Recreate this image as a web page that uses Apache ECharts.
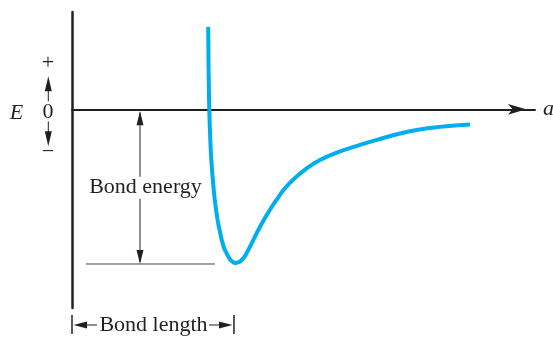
<!DOCTYPE html>
<html><head><meta charset="utf-8">
<script src="https://cdn.jsdelivr.net/npm/echarts@6/dist/echarts.min.js"></script>
<style>html,body{margin:0;padding:0;background:#fff}#c{width:553px;height:339px}</style>
</head><body><div id="c"></div>
<script>
// Separation a (arbitrary units) and energy E (arbitrary units)
const distanceA = [2.942, 2.948, 2.957, 2.965, 2.987, 3.009, 3.037, 3.084, 3.145, 3.201, 3.274, 3.326, 3.376, 3.417, 3.467, 3.521, 3.585, 3.650, 3.715, 3.790, 3.881, 4.024, 4.168, 4.320, 4.456, 4.564, 4.780, 5.069, 5.356, 5.717, 6.220, 6.652, 7.084, 7.516, 7.948, 8.272, 8.596];
const energyE   = [4.232, 2.537, 0.996, 0.021, -1.572, -2.599, -3.472, -4.653, -5.680, -6.348, -7.052, -7.324, -7.565, -7.709, -7.822, -7.889, -7.863, -7.766, -7.596, -7.298, -6.877, -6.194, -5.578, -4.987, -4.515, -4.155, -3.600, -3.025, -2.599, -2.224, -1.828, -1.520, -1.238, -1.032, -0.899, -0.827, -0.776];
const bondLength = 3.52;   // a at the minimum
const bondEnergy = -7.94;  // depth of the well
const axisRangeA = [0, 10];
const axisRangeE = [-10.2, 5];
const xAxisName = 'a';
const yAxisName = 'E';
const energySigns = ['+', '0', '\u2212'];
const annotationTexts = ['Bond energy', 'Bond length'];

const ink = '#231f20';
const serif = '"Liberation Serif", "Times New Roman", serif';
const chart = echarts.init(document.getElementById('c'), null, {renderer: 'canvas'});

const curve = distanceA.map((a, i) => [a, energyE[i]]);

chart.setOption({
  animation: false,
  backgroundColor: '#fff',
  grid: {left: 72, right: 18, top: 12, bottom: 31, containLabel: false, outerBoundsMode: 'none'},
  xAxis: {
    type: 'value', min: axisRangeA[0], max: axisRangeA[1],
    name: xAxisName, nameLocation: 'end', nameGap: 8,
    nameTextStyle: {fontFamily: serif, fontStyle: 'italic', fontSize: 22, color: ink, verticalAlign: 'middle'},
    axisLine: {show: true, onZero: true, symbol: ['none', 'arrow'], symbolSize: [8, 18], symbolOffset: [0, -9],
      lineStyle: {color: ink, width: 2}},
    axisTick: {show: false}, axisLabel: {show: false}, splitLine: {show: false}
  },
  yAxis: {
    type: 'value', min: axisRangeE[0], max: axisRangeE[1],
    axisLine: {show: true, onZero: true, lineStyle: {color: ink, width: 2.5}},
    axisTick: {show: false}, axisLabel: {show: false}, splitLine: {show: false}
  },
  series: [{
    type: 'line', data: curve, showSymbol: false, smooth: 0.5, silent: true,
    lineStyle: {color: '#00aeef', width: 4, cap: 'butt'}
  }]
});

const P = (a, e) => chart.convertToPixel({gridIndex: 0}, [a, e]);
const [x0, y0] = P(0, 0);
const [xb, yb] = P(bondLength, bondEnergy);
const yBottom = P(0, axisRangeE[0])[1];
const xe = x0 + 68;
const yMid = (y0 + yb) / 2;
const yl = yBottom + 17;

function line(x1, y1, x2, y2, w, c) {
  return {type: 'line', silent: true, shape: {x1, y1, x2, y2}, style: {stroke: c || ink, lineWidth: w || 1}};
}
function tri(pts) {
  return {type: 'polygon', silent: true, shape: {points: pts}, style: {fill: ink}};
}
function txt(s, x, y, italic) {
  return {type: 'text', silent: true, style: {text: s, x, y, fill: ink, align: 'center', verticalAlign: 'middle',
    font: (italic ? 'italic ' : '') + '22px ' + serif}};
}

const g = [
  // bond energy double arrow
  line(xe, y0 + 3, xe, yb - 2, 1),
  tri([[xe, y0 + 2], [xe - 3.5, y0 + 16], [xe + 3.5, y0 + 16]]),
  tri([[xe, yb], [xe - 3.5, yb - 14], [xe + 3.5, yb - 14]]),
  {type: 'rect', silent: true, shape: {x: xe - 55, y: yMid - 10, width: 120, height: 22}, style: {fill: '#fff'}},
  txt(annotationTexts[0], xe + 5.5, yMid + 1),
  // level line at the minimum
  line(x0 + 14, yb, xb - 20, yb, 1, '#444'),
  // bond length dimension
  line(x0, yl - 10, x0, yl + 9, 1.5),
  line(xb - 1, yl - 10, xb - 1, yl + 9, 1.5),
  line(x0 + 8, yl, x0 + 25, yl, 1),
  tri([[x0 + 1.5, yl], [x0 + 15, yl - 3.5], [x0 + 15, yl + 3.5]]),
  line(xb - 26, yl, xb - 9, yl, 1),
  tri([[xb - 2.5, yl], [xb - 16, yl - 3.5], [xb - 16, yl + 3.5]]),
  txt(annotationTexts[1], (x0 + xb) / 2, yl),
  // energy axis label and signs
  txt(yAxisName, 16.5, y0 + 4, true),
  txt(energySigns[1], 48, y0 + 3),
  txt(energySigns[0], 48, y0 - 46),
  txt(energySigns[2], 48, y0 + 43),
  line(48.3, y0 - 8, 48.3, y0 - 22, 1),
  tri([[48.3, y0 - 33], [44.8, y0 - 18], [51.8, y0 - 18]]),
  line(48.3, y0 + 12, 48.3, y0 + 26, 1),
  tri([[48.3, y0 + 37], [44.8, y0 + 22], [51.8, y0 + 22]])
];
chart.setOption({graphic: g});
</script></body></html>
